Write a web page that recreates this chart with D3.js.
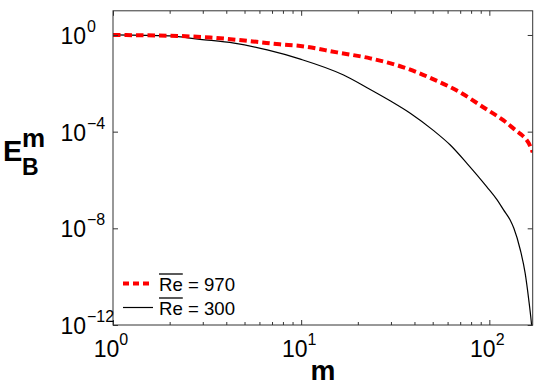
<!DOCTYPE html>
<html>
<head>
<meta charset="utf-8">
<script src="https://cdn.jsdelivr.net/npm/d3@7"></script>
<style>
  body { margin: 0; background: #fff; }
  svg { font-family: "Liberation Sans", Arial, sans-serif; }
</style>
</head>
<body>
<svg id="chart" width="540" height="392"></svg>
<script>
// values
var mHigh = [1, 2.2, 3.3, 5.8, 7.7, 9.9, 15.5, 23.3, 35, 52.7, 68.7, 93.3, 119, 141, 149, 165, 170];
var eHigh = [1, 0.91, 0.78, 0.52, 0.41, 0.35, 0.19, 0.108, 4.6e-2, 1.26e-2, 4.6e-3, 1.0e-3, 2.9e-4, 1.0e-4, 7.2e-5, 2.5e-5, 1.4e-5];

var mLow = [1, 2.0, 2.9, 4.4, 6.6, 9.9, 16.8, 22.4, 29.7, 38, 50.6, 62, 76, 97, 110, 119, 129, 135, 146, 155, 162, 167, 170];
var eLow = [1, 0.91, 0.66, 0.46, 0.24, 0.1, 2.2e-2, 6.6e-3, 1.9e-3, 5.8e-4, 1.1e-4, 2.8e-5, 4.9e-6, 5.2e-7, 1.5e-7, 5.8e-8, 2.2e-8, 1e-8, 1.3e-9, 1.4e-10, 1.1e-11, 1.4e-12, 3e-13];

var xTicks = [1, 10, 100];
var xTickExp = ["0", "1", "2"];
var xMinor = [2, 3, 4, 5, 6, 7, 8, 9, 20, 30, 40, 50, 60, 70, 80, 90];
var yTicks = [1, 1e-4, 1e-8, 1e-12];
var yTickExp = ["0", "\u22124", "\u22128", "\u221212"];
var legendLabels = ["970", "300"];

var svg = d3.select("#chart");

var plotLeft = 113, plotRight = 532.7, plotTop = 10.8, plotBottom = 325;

var x = d3.scaleLog().domain([1, 170]).range([plotLeft, plotRight]);
var y = d3.scaleLog().domain([1e-12, 10]).range([plotBottom, plotTop]);

svg.append("clipPath").attr("id", "clip")
    .append("rect")
    .attr("x", plotLeft).attr("y", plotTop)
    .attr("width", plotRight - plotLeft).attr("height", plotBottom - plotTop);

var line = d3.line()
    .x(function(d) { return x(d[0]); })
    .y(function(d) { return y(d[1]); })
    .curve(d3.curveMonotoneX);

var high = mHigh.map(function(m, i) { return [m, eHigh[i]]; });
var low = mLow.map(function(m, i) { return [m, eLow[i]]; });

svg.append("path")
    .datum(low)
    .attr("clip-path", "url(#clip)")
    .attr("fill", "none")
    .attr("stroke", "#000")
    .attr("stroke-width", 1.2)
    .attr("d", line);

svg.append("path")
    .datum(high)
    .attr("clip-path", "url(#clip)")
    .attr("fill", "none")
    .attr("stroke", "#ff0000")
    .attr("stroke-width", 4)
    .attr("stroke-dasharray", "7.5,4")
    .attr("d", line);

// axes with inward ticks
function styleAxis(g) {
    g.select(".domain").remove();
    g.selectAll("line").attr("stroke", "#333");
}

svg.append("g").attr("transform", "translate(0," + plotBottom + ")")
    .call(d3.axisBottom(x).tickValues(xTicks).tickSize(-5).tickFormat(""))
    .call(styleAxis);
svg.append("g").attr("transform", "translate(0," + plotBottom + ")")
    .call(d3.axisBottom(x).tickValues(xMinor).tickSize(-3).tickFormat(""))
    .call(styleAxis);
svg.append("g").attr("transform", "translate(0," + plotTop + ")")
    .call(d3.axisTop(x).tickValues(xTicks).tickSize(-5).tickFormat(""))
    .call(styleAxis);
svg.append("g").attr("transform", "translate(0," + plotTop + ")")
    .call(d3.axisTop(x).tickValues(xMinor).tickSize(-3).tickFormat(""))
    .call(styleAxis);
svg.append("g").attr("transform", "translate(" + plotLeft + ",0)")
    .call(d3.axisLeft(y).tickValues(yTicks).tickSize(-5).tickFormat(""))
    .call(styleAxis);
svg.append("g").attr("transform", "translate(" + plotRight + ",0)")
    .call(d3.axisRight(y).tickValues(yTicks).tickSize(-5).tickFormat(""))
    .call(styleAxis);

svg.append("rect")
    .attr("x", plotLeft).attr("y", plotTop)
    .attr("width", plotRight - plotLeft).attr("height", plotBottom - plotTop)
    .attr("fill", "none")
    .attr("stroke", "#333")
    .attr("stroke-width", 1);

// x tick labels
xTicks.forEach(function(v, i) {
    var t = svg.append("text")
        .attr("x", x(v) - 2)
        .attr("y", 357)
        .attr("text-anchor", "middle")
        .attr("font-size", 23);
    t.append("tspan").text("10");
    t.append("tspan").attr("dy", -12).attr("font-size", 16).text(xTickExp[i]);
});

// y tick labels
yTicks.forEach(function(v, i) {
    svg.append("text")
        .attr("x", 86)
        .attr("y", y(v) + 9)
        .attr("text-anchor", "end")
        .attr("font-size", 23)
        .text("10");
    svg.append("text")
        .attr("x", 87)
        .attr("y", y(v) - 3)
        .attr("font-size", 16)
        .text(yTickExp[i]);
});

// axis titles
svg.append("text")
    .attr("x", (plotLeft + plotRight) / 2)
    .attr("y", 380)
    .attr("text-anchor", "middle")
    .attr("font-size", 28)
    .attr("font-weight", "bold")
    .text("m");

svg.append("text").attr("x", 3).attr("y", 161)
    .attr("font-size", 29).attr("font-weight", "bold").text("E");
svg.append("text").attr("x", 22).attr("y", 147)
    .attr("font-size", 26).attr("font-weight", "bold").text("m");
svg.append("text").attr("x", 22).attr("y", 175)
    .attr("font-size", 23).attr("font-weight", "bold").text("B");

// legend
var legY = [283.5, 307.5];
svg.append("line")
    .attr("x1", 123).attr("x2", 153)
    .attr("y1", legY[0]).attr("y2", legY[0])
    .attr("stroke", "#ff0000").attr("stroke-width", 4)
    .attr("stroke-dasharray", "6,4");
svg.append("line")
    .attr("x1", 123).attr("x2", 153)
    .attr("y1", legY[1]).attr("y2", legY[1])
    .attr("stroke", "#000").attr("stroke-width", 1.2);

legendLabels.forEach(function(lab, i) {
    var t = svg.append("text")
        .attr("x", 159)
        .attr("y", legY[i] + 7.3)
        .attr("font-size", 18.6);
    var re = t.append("tspan").text("Re");
    t.append("tspan").text(" = " + lab);
    var w = re.node().getComputedTextLength();
    svg.append("line")
        .attr("x1", 159).attr("x2", 159 + w)
        .attr("y1", legY[i] - 9.5).attr("y2", legY[i] - 9.5)
        .attr("stroke", "#000").attr("stroke-width", 1.3);
});
</script>
</body>
</html>
